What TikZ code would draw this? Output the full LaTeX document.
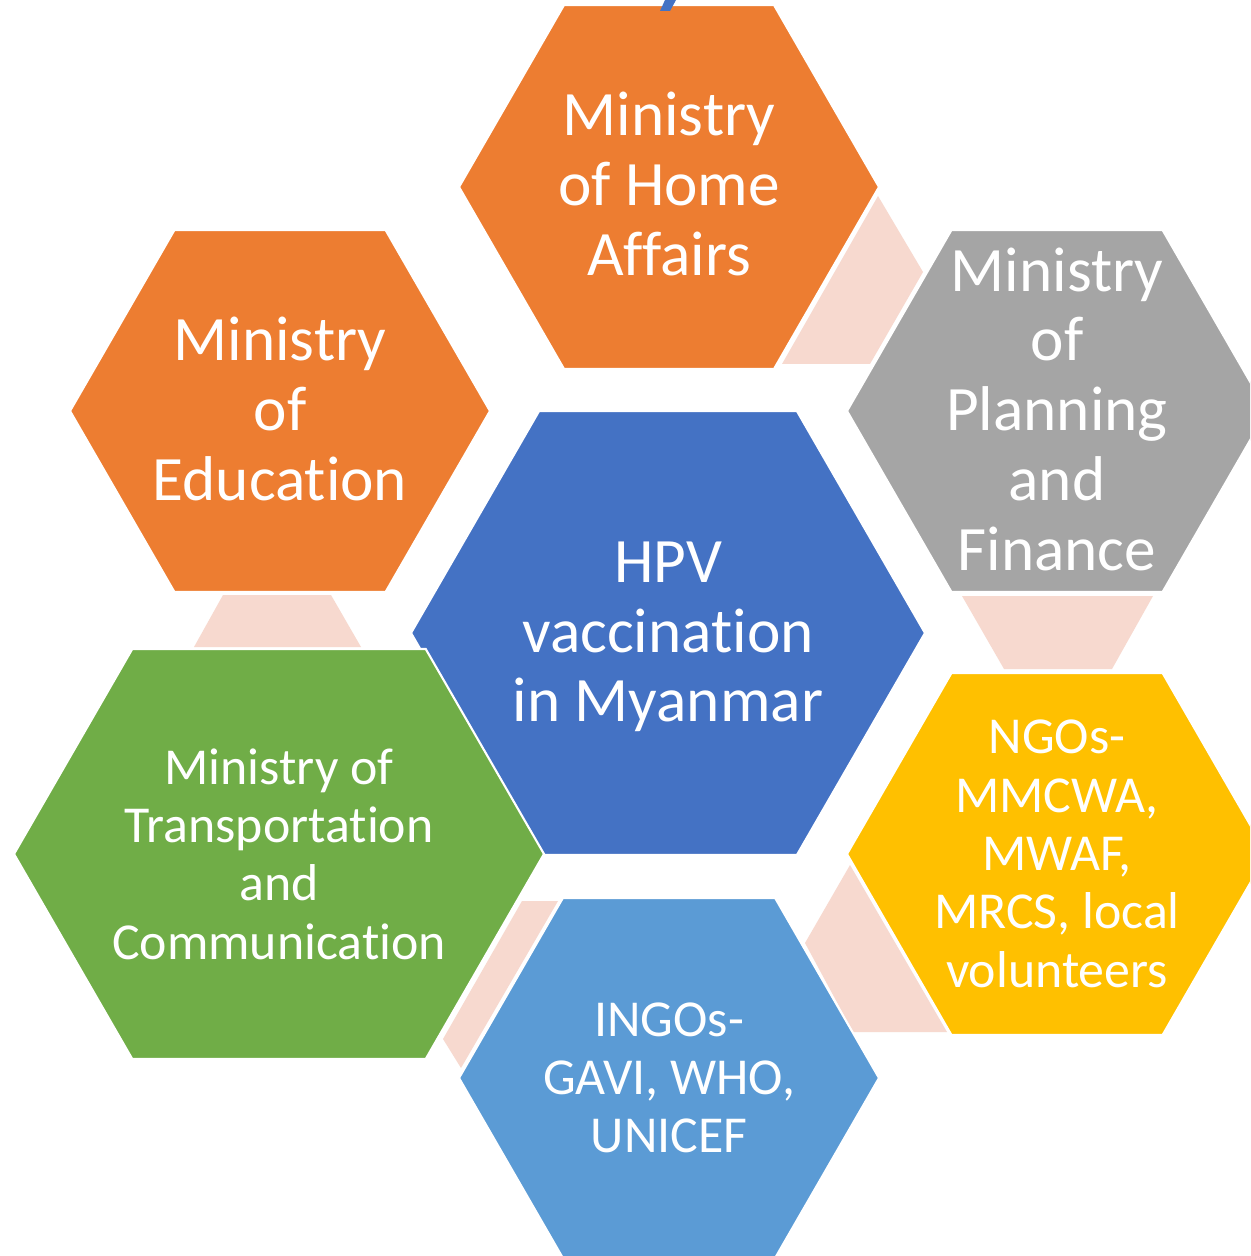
\documentclass[tikz,border=0pt]{standalone}
\usepackage{fontspec}
\setmainfont{Carlito}[Ligatures=NoCommon]

% hexagon with flat top and bottom: centre x, centre y, half width, half height, fill
\newcommand{\hexagon}[5]{%
  \filldraw[hex, fill=#5] ({#1-#3},#2) -- ({#1-#3+0.577*#4},{#2-#4}) -- ({#1+#3-0.577*#4},{#2-#4})
    -- ({#1+#3},#2) -- ({#1+#3-0.577*#4},{#2+#4}) -- ({#1-#3+0.577*#4},{#2+#4}) -- cycle;}

\begin{document}
\begin{tikzpicture}[x=0.02cm,y=-0.02cm]
    \definecolor{hpv_color}{RGB}{68,114,196}
    \definecolor{ministry_color}{RGB}{237,125,49}
    \definecolor{planning_color}{RGB}{165,165,165}
    \definecolor{ngo_color}{RGB}{255,192,0}
    \definecolor{ingo_color}{RGB}{91,155,213}
    \definecolor{transport_color}{RGB}{112,173,71}
    \definecolor{link_color}{RGB}{247,217,207}
    \tikzstyle{hex} = [draw=white, line width=1.2pt]
    \tikzstyle{link} = [fill=link_color]
    \tikzstyle{big} = [text=white, align=center, inner sep=0pt, font=\fontsize{36}{39.7}\selectfont]
    \tikzstyle{small} = [text=white, align=center, inner sep=0pt, font=\fontsize{29.5}{33.2}\selectfont]
    \clip (0,0) rectangle (1250,1256);
    \fill[white] (0,0) rectangle (1250,1256);

    \hexagon{668}{633}{257}{222}{hpv_color}
    \fill[link] (878,196) -- (923,272) -- (870,364) -- (782,364) -- cycle;
    \fill[link] (962,596) -- (1153,596) -- (1112,669) -- (1004,669) -- cycle;
    \fill[link] (850,865) -- (805,943) -- (853,1032) -- (947,1032) -- cycle;
    \fill[link] (522,901) -- (558,901) -- (461,1068) -- (443,1039) -- cycle;
    \fill[link] (223,595) -- (331,595) -- (361,647) -- (194,647) -- cycle;
    \hexagon{669}{187}{210}{182}{ministry_color}
    \hexagon{280}{411}{210}{181}{ministry_color}
    \hexagon{1057}{411}{210}{181}{planning_color}
    \hexagon{1057}{854}{210}{181}{ngo_color}
    \hexagon{669}{1078}{210}{180}{ingo_color}
    \hexagon{279}{854}{265}{205}{transport_color}
    \fill[hpv_color] (665,0) -- (676,0) -- (670,11) -- (660,11) -- cycle;

    \node[big] (hpv) at (668,637) {HPV\\vaccination\\in Myanmar};
    \node[big] (home) at (669,184) {Ministry\\of Home\\Affairs};
    \node[big] (education) at (280,409) {Ministry\\of\\Education};
    \node[big] (planning) at (1057,409) {Ministry\\of\\Planning\\and\\Finance};
    \node[small] (ngo) at (1057,854) {NGOs-\\MMCWA,\\MWAF,\\MRCS, local\\volunteers};
    \node[small] (ingo) at (669,1078) {INGOs-\\GAVI, WHO,\\UNICEF};
    \node[small] (transport) at (279,854) {Ministry of\\Transportation\\and\\Communication};
\end{tikzpicture}
\end{document}
